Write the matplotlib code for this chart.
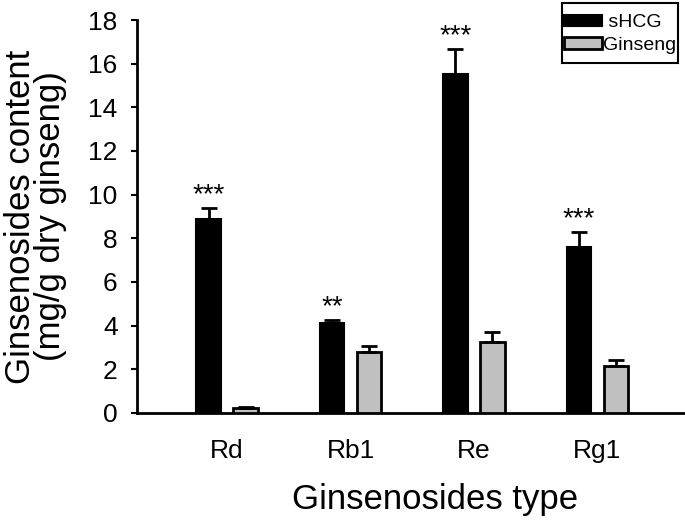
import matplotlib
matplotlib.use("Agg")
import matplotlib.pyplot as plt
from matplotlib.patches import Rectangle
import numpy as np

plt.rcParams['font.family'] = ['Liberation Sans', 'DejaVu Sans']

categories = ["Rd", "Rb1", "Re", "Rg1"]
shcg = [8.89, 4.12, 15.53, 7.60]
shcg_err = [0.50, 0.14, 1.14, 0.69]
ginseng = [0.23, 2.79, 3.25, 2.15]
ginseng_err = [0.05, 0.28, 0.46, 0.28]
stars = ["***", "**", "***", "***"]
yticks = [0, 2, 4, 6, 8, 10, 12, 14, 16, 18]

fig = plt.figure(figsize=(6.85, 5.2), dpi=100)
ax = fig.add_axes([0.2, 0.206, 0.80, 0.7555])

x = np.arange(len(categories))
w = 0.2
off = 0.15
ax.bar(x - off, shcg, w, color='black', edgecolor='black', linewidth=1.5,
       yerr=[np.zeros(4), shcg_err], error_kw=dict(ecolor='black', elinewidth=2, capsize=6, capthick=2),
       label=' sHCG', zorder=3)
ax.bar(x + off, ginseng, w, color='#c0c0c0', edgecolor='black', linewidth=2,
       yerr=[np.zeros(4), ginseng_err], error_kw=dict(ecolor='black', elinewidth=2, capsize=6, capthick=2),
       label='Ginseng', zorder=3)

for xi, v, e, s in zip(x, shcg, shcg_err, stars):
    ax.text(xi - off, v + e + 0.6, s, ha='center', va='center', fontsize=20)

ax.set_xlim(-0.73, 3.71)
ax.set_ylim(0, 18)
ax.set_yticks(yticks)
ax.set_xticks(x)
ax.set_xticklabels(categories)
ax.tick_params(axis='x', length=0, labelsize=19, pad=19)
ax.tick_params(axis='y', length=4, width=1.5, labelsize=19, direction='out', pad=10)
for sp in ['top', 'right']:
    ax.spines[sp].set_visible(False)
for sp in ['left', 'bottom']:
    ax.spines[sp].set_linewidth(2)

ax.set_ylabel("Ginsenosides content\n(mg/g dry ginseng)", fontsize=25, linespacing=0.88)
ax.yaxis.set_label_coords(-0.128, 0.5)
ax.set_xlabel("Ginsenosides type", fontsize=25)
ax.xaxis.set_label_coords(0.544, -0.178)

leg = ax.legend(loc='center', bbox_to_anchor=(620 / 685, 1 - 34 / 520), bbox_transform=fig.transFigure,
                fontsize=14, frameon=False, handlelength=1.95, handleheight=0.5,
                handletextpad=0.05, borderpad=0, labelspacing=0.3, borderaxespad=0)
fig.add_artist(Rectangle((562 / 685, 1 - 63 / 520), 116 / 685, 60 / 520, transform=fig.transFigure,
                         facecolor='none', edgecolor='black', linewidth=1.5))

fig.savefig("out.png", dpi=100)
